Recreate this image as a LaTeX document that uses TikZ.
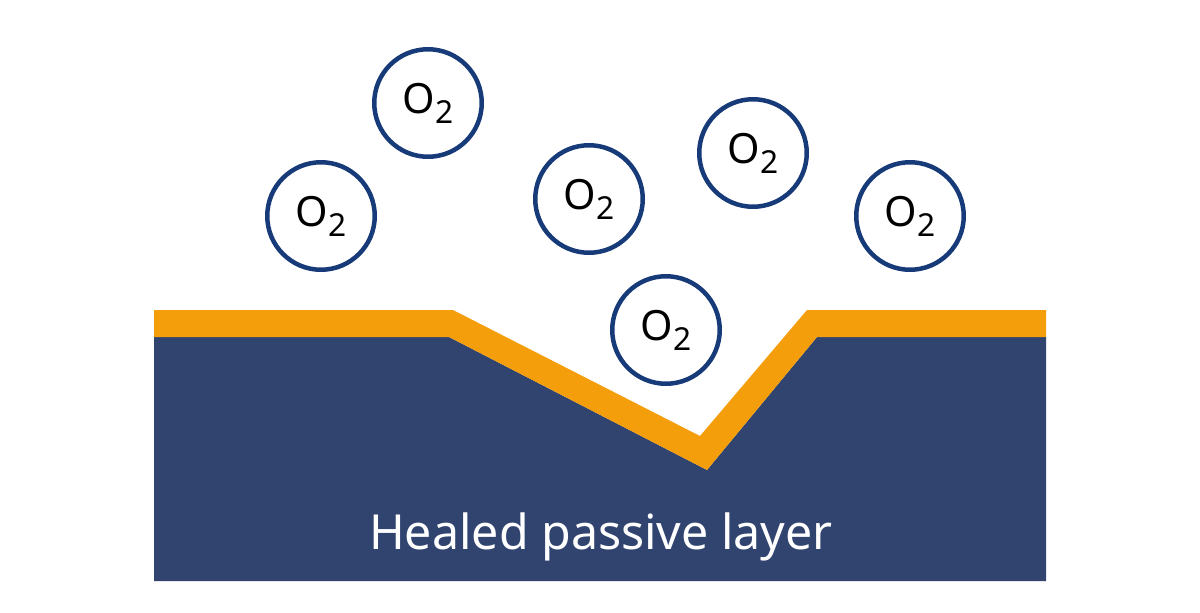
\documentclass[tikz,border=0pt]{standalone}
\usepackage{fontspec}
\setmainfont{Noto Sans}
\definecolor{navy}{HTML}{31446F}
\definecolor{amber}{HTML}{F59E0B}
\definecolor{ring}{HTML}{173A78}
\tikzset{
  oxy/.style={circle,draw=ring,line width=2.7pt,fill=white,minimum size=64.5pt,inner sep=0pt,
    font=\fontsize{25}{25}\selectfont\bfseries,text=black},
  captext/.style={text=white,inner sep=0pt,font=\fontsize{29}{29}\selectfont}
}
\newcommand{\otwo}{O\raisebox{-0.45ex}{\fontsize{19}{19}\selectfont\mdseries 2}}
\begin{document}
\begin{tikzpicture}[x=0.6pt,y=-0.6pt]
\useasboundingbox[fill=white] (0,0) rectangle (1200,613);
\fill[navy] (154,337) -- (449,337) -- (707,470) -- (817,337) -- (1046,337) -- (1046,581) -- (154,581) -- cycle;
\fill[amber] (154,310) -- (453,310) -- (700,436) -- (807,310) -- (1046,310) -- (1046,337) -- (817,337) -- (707,470) -- (449,337) -- (154,337) -- cycle;
\node[oxy] (a) at (321,216) {\otwo};
\node[oxy] (b) at (428,103) {\otwo};
\node[oxy] (c) at (589,199) {\otwo};
\node[oxy] (d) at (753,153) {\otwo};
\node[oxy] (e) at (910,216) {\otwo};
\node[oxy] (f) at (666,330) {\otwo};
\node[captext] (t) at (601,537) {Healed passive layer};
\end{tikzpicture}
\end{document}
